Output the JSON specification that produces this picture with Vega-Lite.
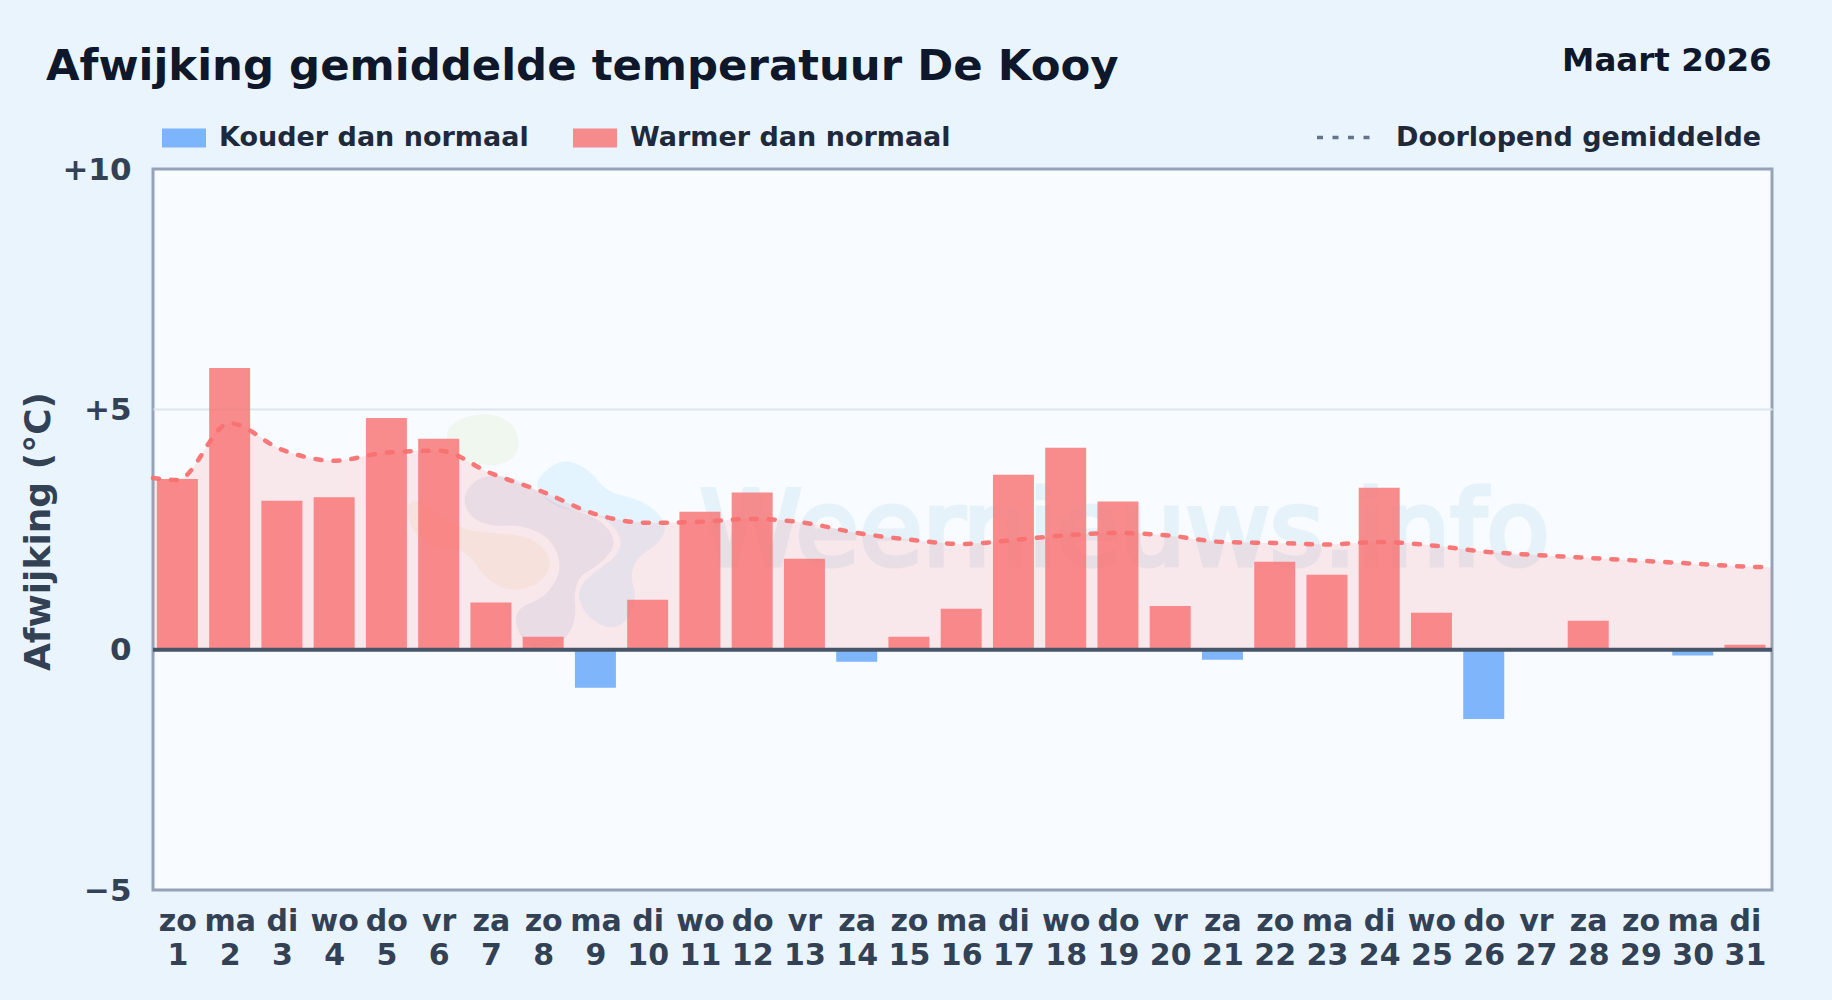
{
"$schema":"https://vega.github.io/schema/vega-lite/v6.json",
"autosize":{"type":"none"},
"width":1619,"height":721,
"padding":{"left":153,"top":169,"right":60,"bottom":110},
"background":"#eaf4fd",
"config":{"view":{"stroke":"#94a3b8","strokeWidth":3,"fill":"#f8fbff"},"font":"DejaVu Sans"},
"title":{"text":"Afwijking gemiddelde temperatuur De Kooy","anchor":"start","frame":"group","dx":-107,"dy":88,"offset":10,"baseline":"alphabetic","font":"DejaVu Sans","fontSize":43.4,"fontWeight":"bold","color":"#0f172a"},
"datasets":{
"dagen":[
{"dag":1,"waarde":3.55,"soort":"Warmer dan normaal"},{"dag":2,"waarde":5.86,"soort":"Warmer dan normaal"},{"dag":3,"waarde":3.1,"soort":"Warmer dan normaal"},{"dag":4,"waarde":3.17,"soort":"Warmer dan normaal"},{"dag":5,"waarde":4.82,"soort":"Warmer dan normaal"},{"dag":6,"waarde":4.39,"soort":"Warmer dan normaal"},{"dag":7,"waarde":0.98,"soort":"Warmer dan normaal"},{"dag":8,"waarde":0.27,"soort":"Warmer dan normaal"},{"dag":9,"waarde":-0.79,"soort":"Kouder dan normaal"},{"dag":10,"waarde":1.04,"soort":"Warmer dan normaal"},{"dag":11,"waarde":2.87,"soort":"Warmer dan normaal"},{"dag":12,"waarde":3.27,"soort":"Warmer dan normaal"},{"dag":13,"waarde":1.89,"soort":"Warmer dan normaal"},{"dag":14,"waarde":-0.25,"soort":"Kouder dan normaal"},{"dag":15,"waarde":0.27,"soort":"Warmer dan normaal"},{"dag":16,"waarde":0.85,"soort":"Warmer dan normaal"},{"dag":17,"waarde":3.64,"soort":"Warmer dan normaal"},{"dag":18,"waarde":4.2,"soort":"Warmer dan normaal"},{"dag":19,"waarde":3.08,"soort":"Warmer dan normaal"},{"dag":20,"waarde":0.91,"soort":"Warmer dan normaal"},{"dag":21,"waarde":-0.21,"soort":"Kouder dan normaal"},{"dag":22,"waarde":1.83,"soort":"Warmer dan normaal"},{"dag":23,"waarde":1.56,"soort":"Warmer dan normaal"},{"dag":24,"waarde":3.37,"soort":"Warmer dan normaal"},{"dag":25,"waarde":0.77,"soort":"Warmer dan normaal"},{"dag":26,"waarde":-1.44,"soort":"Kouder dan normaal"},{"dag":27,"waarde":0,"soort":"Warmer dan normaal"},{"dag":28,"waarde":0.6,"soort":"Warmer dan normaal"},{"dag":29,"waarde":0,"soort":"Warmer dan normaal"},{"dag":30,"waarde":-0.12,"soort":"Kouder dan normaal"},{"dag":31,"waarde":0.1,"soort":"Warmer dan normaal"}
],
"gemiddelde":[
{"dag":0.533,"waarde":3.57},{"dag":1,"waarde":3.53},{"dag":2,"waarde":4.71},{"dag":3,"waarde":4.16},{"dag":4,"waarde":3.93},{"dag":5,"waarde":4.1},{"dag":6,"waarde":4.14},{"dag":7,"waarde":3.67},{"dag":8,"waarde":3.28},{"dag":9,"waarde":2.82},{"dag":10,"waarde":2.64},{"dag":11,"waarde":2.66},{"dag":12,"waarde":2.72},{"dag":13,"waarde":2.64},{"dag":14,"waarde":2.43},{"dag":15,"waarde":2.29},{"dag":16,"waarde":2.2},{"dag":17,"waarde":2.28},{"dag":18,"waarde":2.38},{"dag":19,"waarde":2.43},{"dag":20,"waarde":2.37},{"dag":21,"waarde":2.24},{"dag":22,"waarde":2.22},{"dag":23,"waarde":2.19},{"dag":24,"waarde":2.24},{"dag":25,"waarde":2.17},{"dag":26,"waarde":2.04},{"dag":27,"waarde":1.97},{"dag":28,"waarde":1.91},{"dag":29,"waarde":1.85},{"dag":30,"waarde":1.79},{"dag":31,"waarde":1.73},{"dag":31.517,"waarde":1.71}
]},
"encoding":{
  "x":{"field":"dag","type":"quantitative","title":null,"scale":{"domain":[0.533,31.517],"nice":false,"zero":false,"padding":0},"axis":{"values":[1,2,3,4,5,6,7,8,9,10,11,12,13,14,15,16,17,18,19,20,21,22,23,24,25,26,27,28,29,30,31],"domain":false,"ticks":false,"grid":false,"labelOverlap":false,"labelFlush":false,"labelBound":false,"labelPadding":16,"labelFont":"DejaVu Sans","labelFontSize":30,"labelFontWeight":"bold","labelColor":"#334155","labelLineHeight":34.5,"labelBaseline":"top","labelExpr":"[['zo','ma','di','wo','do','vr','za'][(datum.value-1)%7], ''+datum.value]"}},
  "y":{"field":"waarde","type":"quantitative","scale":{"domain":[-5,10],"nice":false,"zero":false},"axis":{"values":[-5,0,5,10],"title":"Afwijking (°C)","titleX":-115,"titleY":362,"titleAngle":-90,"titleAlign":"center","titleBaseline":"middle","titleFont":"DejaVu Sans","titleFontSize":36,"titleFontWeight":"bold","titleColor":"#334155","domain":false,"ticks":false,"grid":true,"gridColor":{"condition":{"test":"datum.value==5","value":"#dde5ee"},"value":"transparent"},"gridWidth":2,"labelPadding":22,"labelOffset":1,"labelFont":"DejaVu Sans","labelFontSize":31,"labelFontWeight":"bold","labelColor":"#334155","labelExpr":"datum.value>0?'+'+datum.value:datum.value<0?'−'+abs(datum.value):'0'"}}
},
"layer":[
{"data":{"values":[{"dag":19.13,"waarde":1.767,"tekst":"Weernieuws.info"}]},
 "mark":{"type":"text","font":"DejaVu Sans","fontSize":103,"color":"#2497cd","stroke":"#2497cd","strokeWidth":5,"opacity":0.08,"align":"center","baseline":"alphabetic"},
 "encoding":{"text":{"field":"tekst"}}},
{"data":{"values":[{"dag":7.94,"waarde":2.287}]},
 "mark":{"type":"point","filled":true,"size":4,"color":"#84cc16","opacity":0.07,"shape":"M-92,-110 C-85,-125 -40,-135 -25,-110 C-18,-95 -20,-80 -43,-75 C-65,-72 -100,-85 -92,-110Z"}},
{"data":{"values":[{"dag":7.94,"waarde":2.287}]},
 "mark":{"type":"point","filled":true,"size":4,"color":"#f59e0b","opacity":0.07,"shape":"M-131.5,-32 Q-130,-47 -105,-28.5 Q-80,-10 -63.5,-8.5 Q-47,-7 -27,-5 Q-7,-3 3,8.5 Q13,20 8,31.5 Q3,43 -13.5,48 Q-30,53 -43.5,45 Q-57,37 -65,23.5 Q-73,10 -93,8.5 Q-113,7 -123,-5 Q-133,-17 -131.5,-32Z"}},
{"data":{"values":[{"dag":7.94,"waarde":2.287}]},
 "mark":{"type":"point","filled":true,"size":4,"color":"#38bdf8","opacity":0.1,"shape":"M-3,-55 Q-3,-63 10,-72.5 Q23,-82 36.5,-76 Q50,-70 58.5,-58.5 Q67,-47 85,-43.5 Q103,-40 115.5,-28.5 Q128,-17 124,-7 Q120,3 108.5,10 Q97,17 93.5,27 Q90,37 93.5,47 Q97,57 92,70 Q87,83 77,86.5 Q67,90 55,81.5 Q43,73 40,61.5 Q37,50 45,41.5 Q53,33 65,25 Q77,17 80,7 Q83,-3 71.5,-15 Q60,-27 40,-28.5 Q20,-30 8.5,-38.5 Q-3,-47 -3,-55Z"}},
{"data":{"values":[{"dag":7.94,"waarde":2.287}]},
 "mark":{"type":"point","filled":true,"size":4,"color":"#1e40af","opacity":0.07,"shape":"M-70.5,-53 Q-63,-63 -48,-64 Q-33,-65 -21.5,-59 Q-10,-53 5,-43 Q20,-33 40,-27.5 Q60,-22 69,-9.5 Q78,3 69,14 Q60,25 46.5,32.5 Q33,40 35,65 Q37,90 20,102.5 Q3,115 -8.5,107.5 Q-20,100 -23.5,85 Q-27,70 -10,63.5 Q7,57 15,42 Q23,27 16.5,12 Q10,-3 -5,-9 Q-20,-15 -33.5,-14 Q-47,-13 -58.5,-17.5 Q-70,-22 -74,-32.5 Q-78,-43 -70.5,-53Z"}},
{"data":{"name":"gemiddelde"},
 "mark":{"type":"area","interpolate":"monotone","color":"#f87171","opacity":0.14},
 "encoding":{"y2":{"datum":0}}},
{"data":{"name":"dagen"},
 "mark":{"type":"bar","size":41,"opacity":0.8},
 "encoding":{
  "fill":{"field":"soort","type":"nominal","scale":{"domain":["Kouder dan normaal","Warmer dan normaal"],"range":["#60a5fa","#f87171"]},
   "legend":{"title":null,"orient":"none","legendX":9,"legendY":-53,"direction":"horizontal","symbolType":"M-1,-0.43H1V0.43H-1Z","symbolSize":1936,"symbolStrokeWidth":0,"labelFont":"DejaVu Sans","labelFontSize":27,"labelFontWeight":"bold","labelColor":"#1e293b","labelOffset":13,"columnPadding":44,"labelLimit":400}}
 }},
{"data":{"name":"gemiddelde"},
 "mark":{"type":"line","interpolate":"monotone","color":"#f87171","strokeWidth":4.5,"strokeCap":"round","strokeDash":[6,12],"opacity":0.95}},
{"data":{"values":[]},
 "mark":{"type":"line","strokeWidth":3.5,"strokeCap":"butt","strokeDash":[6,9.5]},
 "encoding":{
  "stroke":{"datum":"Doorlopend gemiddelde","type":"nominal","scale":{"domain":["Doorlopend gemiddelde"],"range":["#64748b"]},
   "legend":{"title":null,"orient":"none","legendX":1162,"legendY":-61,"symbolType":"stroke","symbolSize":3025,"symbolDash":[6,9.5],"symbolStrokeWidth":3.5,"labelFont":"DejaVu Sans","labelFontSize":27,"labelFontWeight":"bold","labelColor":"#1e293b","labelOffset":22,"labelLimit":500}}}},
{"data":{"values":[{"dag":0.533,"waarde":0},{"dag":31.517,"waarde":0}]},
 "mark":{"type":"line","color":"#475569","strokeWidth":4}},
{"data":{"values":[{"dag":31.51,"waarde":12.04,"tekst":"Maart 2026"}]},
 "mark":{"type":"text","font":"DejaVu Sans","fontSize":32.5,"fontWeight":"bold","color":"#0f172a","align":"right","baseline":"alphabetic"},
 "encoding":{"text":{"field":"tekst"}}}
]
}
